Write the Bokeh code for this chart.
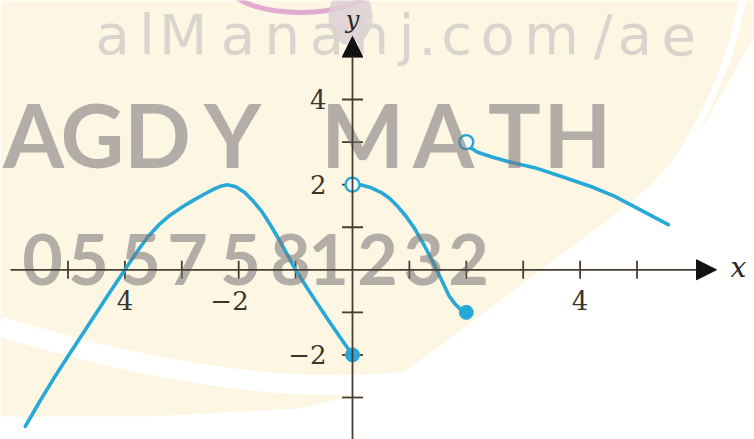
from bokeh.plotting import figure
from bokeh.models import Range1d, Arrow, NormalHead
from bokeh.core.properties import value
from bokeh.embed import file_html
from bokeh.resources import INLINE

# ---- piecewise function, read point by point ----
seg1_x = [-5.75, -5.5, -5.25, -5.0, -4.75, -4.5, -4.25, -4.0, -3.8, -3.6, -3.4, -3.2, -3.0,
          -2.8, -2.6, -2.4, -2.3, -2.2, -2.05, -1.9, -1.75, -1.6, -1.45, -1.3, -1.15,
          -1.0, -0.8, -0.6, -0.4, -0.2, 0.0]
seg1_y = [-3.68, -3.1, -2.55, -2.03, -1.52, -1.01, -0.5, 0.0, 0.4, 0.77, 1.06, 1.29, 1.47,
          1.63, 1.78, 1.92, 1.97, 2.0, 1.95, 1.82, 1.62, 1.38, 1.07, 0.73, 0.37,
          0.0, -0.42, -0.83, -1.23, -1.62, -2.0]

seg2_x = [0.0, 0.15, 0.3, 0.5, 0.65, 0.8, 0.95, 1.1, 1.25, 1.4, 1.55, 1.7, 1.8, 1.9, 2.0]
seg2_y = [2.0, 1.99, 1.94, 1.82, 1.68, 1.48, 1.24, 0.95, 0.6, 0.22, -0.2, -0.62, -0.8, -0.93, -1.0]

seg3_x = [2.0, 2.08, 2.2, 2.45, 2.8, 3.2, 3.7, 4.2, 4.6, 5.1, 5.55]
seg3_y = [3.0, 2.86, 2.76, 2.65, 2.52, 2.4, 2.18, 1.95, 1.73, 1.38, 1.06]

open_x = [0, 2]
open_y = [2, 3]
closed_x = [0, 2]
closed_y = [-2, -1]

x_ticks = [-5, -4, -3, -2, -1, 1, 2, 3, 4, 5]
y_ticks = [-3, -2, -1, 1, 2, 3, 4, 5]
x_label_vals = [-4, 4]
x_label_text = ["4", "4"]
x_neg_vals = [-2]
x_neg_text = ["\u22122"]
y_label_vals = [4, 2, -2]
y_label_text = ["4", "2", "\u22122"]

# ---- page geometry (pixels per unit, origin position) ----
W, H = 754, 439
X0, UX = 352.0, 56.9
Y0, UY = 269.3, 42.57


def dx(px):
    return (px - X0) / UX


def dy(py):
    return (Y0 - py) / UY


BLUE = "#27a8d6"
AXIS = "#463e35"
CREAM = "#fdf6e3"

p = figure(width=W, height=H, output_backend="svg", toolbar_location=None,
           x_range=Range1d(dx(0), dx(W)), y_range=Range1d(dy(H), dy(0)),
           x_axis_location=None, y_axis_location=None, min_border=0)
p.grid.visible = False
p.outline_line_color = None
p.background_fill_color = "white"
p.border_fill_color = "white"

# ---- background rings of the page stamp ----
cream_px = [(0, 0), (754, 0), (754, 35), (740, 60), (700, 130), (650, 185), (600, 225),
            (550, 262), (500, 300), (440, 345), (380, 388), (300, 408), (150, 416), (0, 416)]
p.patch([dx(a) for a, b in cream_px], [dy(b) for a, b in cream_px],
        fill_color=CREAM, line_color=None)
# white arcs
p.bezier(x0=dx(0), y0=dy(326), x1=dx(430), y1=dy(378),
         cx0=dx(150), cy0=dy(372), cx1=dx(300), cy1=dy(398),
         line_color="white", line_width=20)
p.bezier(x0=dx(742), y0=dy(0), x1=dx(590), y1=dy(250),
         cx0=dx(720), cy0=dy(110), cx1=dx(660), cy1=dy(200),
         line_color="white", line_width=7)
p.bezier(x0=dx(754), y0=dy(40), x1=dx(640), y1=dy(230),
         cx0=dx(740), cy0=dy(120), cx1=dx(700), cy1=dy(190),
         line_color="white", line_width=5)

# logo remnants at the top
p.ellipse(x=dx(300), y=dy(-14), width=140, height=52, width_units="screen",
          height_units="screen", fill_color=None, line_color="#e2acd0", line_width=5)
p.ellipse(x=dx(350), y=dy(16), width=44, height=58, width_units="screen",
          height_units="screen", fill_color="#dccfd6", line_color=None, fill_alpha=0.85)

# site address
site = "alManahj.com/ae"
adv = {"a": .613, "l": .278, "M": .863, "n": .634, "h": .634, "j": .278, ".": .318,
       "c": .550, "o": .612, "m": .974, "/": .337, "e": .615}
total = sum(adv[c] for c in site)
scale = 610.0 / total
cx = 95.0
site_x, site_c = [], []
for ch in site:
    site_x.append(dx(cx))
    site_c.append(ch)
    cx += adv[ch] * scale
p.text(x=site_x, y=[dy(34)] * len(site_c), text=site_c, text_font=value("DejaVu Sans"),
       text_font_size="56px", text_color="#dad4ce", text_align="left",
       text_baseline="middle")

# ---- axes ----
p.add_layout(Arrow(end=NormalHead(size=20, fill_color="#111111", line_color="#111111"),
                   x_start=dx(10), y_start=0, x_end=dx(716), y_end=0,
                   line_color=AXIS, line_width=1.8))
p.add_layout(Arrow(end=NormalHead(size=20, fill_color="#111111", line_color="#111111"),
                   x_start=0, y_start=dy(445), x_end=0, y_end=dy(36),
                   line_color=AXIS, line_width=1.8))
p.scatter(x=x_ticks, y=[0] * len(x_ticks), marker="dash", size=18, angle=1.5708,
          line_color=AXIS, line_width=1.8)
p.scatter(x=[0] * len(y_ticks), y=y_ticks, marker="dash", size=21,
          line_color=AXIS, line_width=1.8)

serif = value("DejaVu Serif")
p.text(x=x_label_vals, y=[0] * 2, text=x_label_text, text_font=serif,
       text_font_size="26px", text_color="#3a342e", text_align="center",
       text_baseline="middle", y_offset=31)
p.text(x=x_neg_vals, y=[0], text=x_neg_text, text_font=serif,
       text_font_size="26px", text_color="#3a342e", text_align="right",
       text_baseline="middle", y_offset=31, x_offset=10)
p.text(x=[0] * 3, y=y_label_vals, text=y_label_text, text_font=serif,
       text_font_size="26px", text_color="#3a342e", text_align="right",
       text_baseline="middle", x_offset=-26)
p.text(x=[dx(738)], y=[0], text=["x"], text_font=serif, text_font_style="italic",
       text_font_size="28px", text_color="#2a2520", text_align="center",
       text_baseline="middle", y_offset=-2)
p.text(x=[0], y=[dy(19)], text=["y"], text_font=serif, text_font_style="italic",
       text_font_size="24px", text_color="#2a2520", text_align="center",
       text_baseline="middle")

# ---- the function ----
for xs, ys in ((seg1_x, seg1_y), (seg2_x, seg2_y), (seg3_x, seg3_y)):
    p.line(xs, ys, line_color=BLUE, line_width=3.6, line_cap="round", line_join="round")
p.scatter(open_x, open_y, marker="circle", size=14, fill_color="#f2fbfd",
          line_color=BLUE, line_width=2.4)
p.scatter(closed_x, closed_y, marker="circle", size=14, fill_color=BLUE,
          line_color=BLUE)

# ---- stamp lettering ----
stamp = ["A", "G", "D", "Y", "M", "A", "T", "H"]
stamp_cx = [33, 92, 157, 232, 362, 443, 514, 577]
p.text(x=[dx(v) for v in stamp_cx], y=[dy(133)] * len(stamp), text=stamp,
       text_font=value("Lato"), text_font_style="bold",
       text_font_size="88px", text_color="#7a7478", text_alpha=0.56,
       text_align="center", text_baseline="middle")

phone = list("0557581232")
phone_cx = [42, 88, 140, 187, 240, 290, 328, 377, 423, 468]
p.text(x=[dx(v) for v in phone_cx], y=[dy(259)] * len(phone), text=phone,
       text_font=value("Lato"), text_font_style="bold",
       text_font_size="70px", text_color="#7a7478", text_alpha=0.56,
       text_align="center", text_baseline="middle")

open("out.html", "w").write(file_html(p, INLINE))
